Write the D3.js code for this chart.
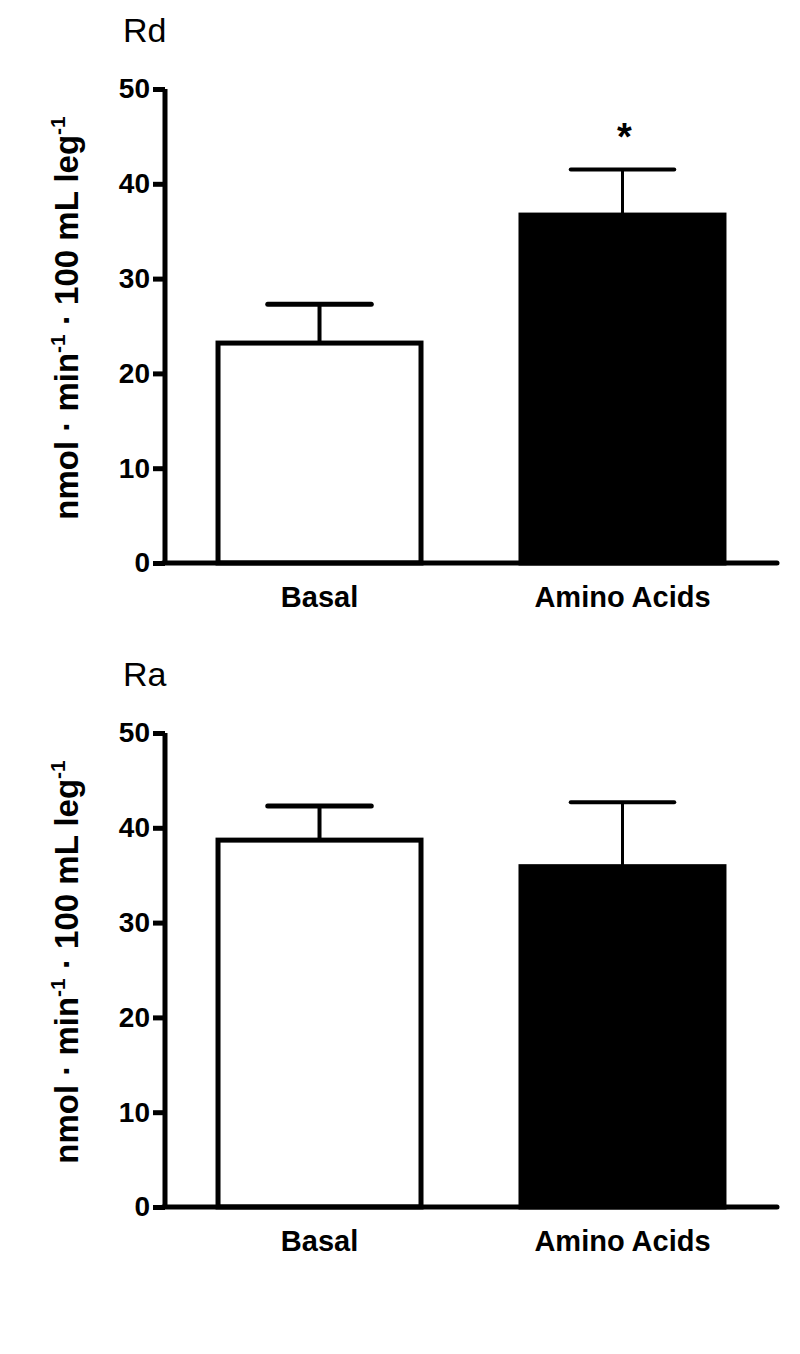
<!DOCTYPE html>
<html>
<head>
<meta charset="utf-8">
<script src="https://cdn.jsdelivr.net/npm/d3@7"></script>
<style>
  body { margin: 0; background: #fff; }
  text { font-family: "Liberation Sans", Arial, sans-serif; }
</style>
</head>
<body>
<div id="chart"></div>
<script>
// data
var groups = ["Basal", "Amino Acids"];
var rdMean = [23.2, 36.7];
var rdSem = [4.1, 4.8];
var raMean = [38.7, 35.9];
var raSem = [3.6, 6.8];
var yTicks = [0, 10, 20, 30, 40, 50];
var rdStars = ["", "*"];
var raStars = ["", ""];

var svgWidth = 800;
var svgHeight = 1354;

var svg = d3.select("#chart")
  .append("svg")
  .attr("width", svgWidth)
  .attr("height", svgHeight);

// one panel per measure
var panels = [
  { title: "Rd", mean: rdMean, sem: rdSem, stars: rdStars, top: 89 },
  { title: "Ra", mean: raMean, sem: raSem, stars: raStars, top: 733 }
];

var axisX = 165;
var axisEnd = 777;
var plotH = 474;

panels.forEach(function(p) {
  var g = svg.append("g")
    .attr("transform", `translate(0, ${p.top})`);

  var x = d3.scaleBand()
    .domain(groups)
    .range([axisX, axisEnd])
    .paddingInner(0.33)
    .paddingOuter(0.175);

  var y = d3.scaleLinear()
    .domain([0, 50])
    .range([plotH, 0]);

  // title
  g.append("text")
    .attr("x", 123)
    .attr("y", -47)
    .style("font-size", "34px")
    .text(p.title);

  // bars
  g.selectAll("rect.bar")
    .data(groups)
    .enter()
    .append("rect")
    .attr("class", "bar")
    .attr("x", d => x(d))
    .attr("y", (d, i) => y(p.mean[i]))
    .attr("width", x.bandwidth())
    .attr("height", (d, i) => y(0) - y(p.mean[i]))
    .attr("fill", (d, i) => i === 0 ? "#fff" : "#000")
    .attr("stroke", "#000")
    .attr("stroke-width", 5);

  // error bars (upper only)
  var capW = x.bandwidth() * 0.51;
  groups.forEach(function(d, i) {
    var cx = x(d) + x.bandwidth() / 2;
    var top = y(p.mean[i] + p.sem[i]);
    g.append("line")
      .attr("x1", cx).attr("x2", cx)
      .attr("y1", y(p.mean[i])).attr("y2", top)
      .attr("stroke", "#000")
      .attr("stroke-width", i === 0 ? 4 : 3);
    g.append("line")
      .attr("x1", cx - capW / 2).attr("x2", cx + capW / 2)
      .attr("y1", top).attr("y2", top)
      .attr("stroke", "#000")
      .attr("stroke-width", i === 0 ? 5 : 4)
      .attr("stroke-linecap", "round");
    if (p.stars[i]) {
      g.append("text")
        .attr("x", cx + 2)
        .attr("y", top - 20)
        .attr("text-anchor", "middle")
        .style("font-size", "38px")
        .style("font-weight", "bold")
        .text(p.stars[i]);
    }
  });

  // y axis
  var leftAxis = d3.axisLeft(y).tickValues(yTicks).tickSize(12).tickPadding(3);
  var ya = g.append("g")
    .attr("transform", `translate(${axisX}, 0)`)
    .call(leftAxis);
  ya.select(".domain").attr("stroke-width", 5).attr("d", `M0,0V${plotH}`);
  ya.selectAll(".tick line").attr("stroke-width", 5);
  ya.selectAll("text")
    .style("font-size", "28px")
    .style("font-weight", "bold")
    .style("font-family", "'Liberation Sans', Arial, sans-serif")
    .attr("fill", "#000");

  // x axis
  var bottomAxis = d3.axisBottom(x).tickSize(0).tickPadding(22);
  var xa = g.append("g")
    .attr("transform", `translate(0, ${plotH})`)
    .call(bottomAxis);
  xa.select(".domain").attr("stroke-width", 5).attr("d", `M${axisX - 2},0H${axisEnd}`)
    .attr("stroke-linecap", "round");
  xa.selectAll("text")
    .attr("dy", 0)
    .attr("y", 44)
    .style("font-size", "29px")
    .style("font-weight", "bold")
    .style("font-family", "'Liberation Sans', Arial, sans-serif")
    .attr("fill", "#000");

  // y label
  var lab = g.append("text")
    .attr("transform", `translate(78, ${plotH / 2 - 8}) rotate(-90)`)
    .attr("text-anchor", "middle")
    .style("font-size", "33px")
    .style("font-weight", "bold");
  lab.append("tspan").text("nmol \u00b7 min");
  lab.append("tspan").attr("dy", -13).style("font-size", "21px").text("-1");
  lab.append("tspan").attr("dy", 13).text(" \u00b7 100 mL leg");
  lab.append("tspan").attr("dy", -13).style("font-size", "21px").text("-1");
});
</script>
</body>
</html>
